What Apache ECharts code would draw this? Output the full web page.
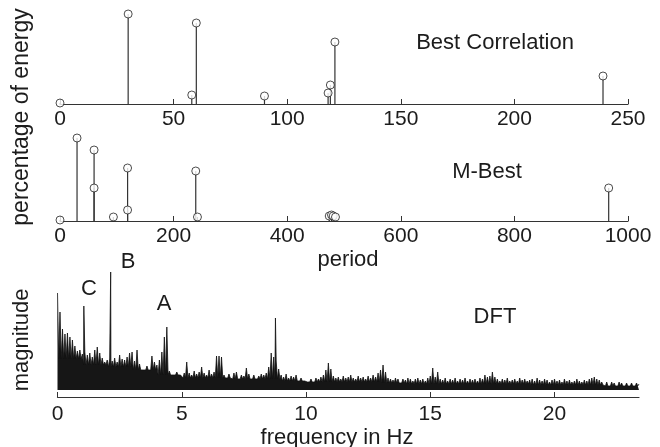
<!DOCTYPE html>
<html>
<head>
<meta charset="utf-8">
<script src="https://cdn.jsdelivr.net/npm/echarts@6/dist/echarts.min.js"></script>
<style>
  html, body { margin: 0; padding: 0; background: #fff; }
  #chart { width: 660px; height: 447px; }
</style>
</head>
<body>
<div id="chart"></div>
<script>
// ---- Data ----
// Panel 1: Best Correlation
var bestPeriods = [0, 30, 58, 60, 90, 118, 119, 121, 239];
var bestEnergy  = [1, 90, 9, 81, 8, 11, 19, 62, 28];

// Panel 2: M-Best
var mbestPeriods = [0, 30, 60, 60, 94, 119, 119, 239, 242, 474, 478, 481, 485, 966];
var mbestEnergy  = [1, 83, 71, 33, 4, 53, 11, 50, 4, 5, 6, 5, 4, 33];

// Panel 3: DFT magnitude, local maxima sampled every 0.1 Hz from 0 to 23.4 Hz
var dftStep = 0.1;
var dftMagnitude = [
  104, 85, 68, 63, 64, 60, 57, 51, 46, 47,
  43, 45, 42, 44, 40, 47, 50, 44, 39, 35,
  37, 38, 36, 39, 35, 42, 38, 37, 40, 44,
  45, 36, 47, 33, 27, 29, 31, 26, 41, 35,
  32, 37, 45, 60, 70, 26, 23, 21, 25, 20,
  22, 24, 35, 24, 22, 26, 23, 25, 30, 24,
  22, 27, 23, 25, 41, 41, 40, 22, 20, 23,
  21, 24, 25, 20, 22, 21, 29, 23, 20, 22,
  19, 21, 23, 22, 24, 30, 44, 40, 36, 28,
  22, 20, 23, 19, 21, 20, 22, 18, 19, 17,
  18, 16, 18, 17, 19, 18, 20, 22, 27, 34,
  28, 21, 19, 20, 18, 21, 19, 20, 22, 19,
  18, 21, 19, 20, 18, 21, 19, 22, 20, 24,
  27, 32, 25, 19, 18, 17, 19, 18, 16, 18,
  17, 19, 18, 16, 18, 19, 17, 18, 16, 19,
  21, 29, 20, 25, 18, 17, 19, 16, 18, 17,
  19, 16, 18, 17, 19, 16, 18, 17, 18, 16,
  19, 18, 22, 20, 21, 25, 20, 18, 16, 18,
  17, 19, 16, 17, 18, 16, 19, 17, 18, 16,
  17, 18, 16, 19, 17, 16, 18, 17, 15, 17,
  18, 16, 17, 15, 18, 16, 17, 15, 16, 18,
  16, 15, 17, 16, 18, 19, 20, 18, 17, 15,
  14, 15, 13, 15, 14, 13, 15, 14, 13, 14,
  12, 14, 13, 14, 13
];
// Top of the solid (dense) noise band, per 1 Hz (0..23 Hz)
var dftBandTop = [38, 32, 30, 27, 22, 19, 19, 18, 18, 16, 15, 15, 15, 14, 13, 13, 13, 13, 13, 12, 12, 12, 11, 11];
// Bottom of the noise band
var dftFloor = 7;
// Narrow spectral lines between the 0.1 Hz samples: [frequency, magnitude]
var dftPeaks = [[1.06, 91], [2.14, 125], [8.77, 79]];

// tick settings
var bestTicks = {min: 0, max: 250, interval: 50};
var mbestTicks = {min: 0, max: 1000, interval: 200};
var dftTicks = {min: 0, max: 23.4, interval: 5};

// ---- Build ----
function zip(a, b) { return a.map(function (v, i) { return [v, b[i]]; }); }
var dftData = [];
dftMagnitude.forEach(function (v, i) {
  var f = Math.round(i * dftStep * 10) / 10;
  dftData.push([f, v]);
  if (i < dftMagnitude.length - 1) {
    dftData.push([Math.round((f + dftStep / 2) * 100) / 100, dftBandTop[Math.floor(f + 1e-9)]]);
  }
});
dftData = dftData.concat(dftPeaks).sort(function (p, q) { return p[0] - q[0]; });

var FONT = "'Liberation Sans', Arial, Helvetica, sans-serif";
var INK = '#1c1c1c';

function xAxisCfg(gi, t, margin) {
  return {
    type: 'value', gridIndex: gi, min: t.min, max: t.max, interval: t.interval,
    axisLine: {show: true, onZero: false, lineStyle: {color: '#333', width: 1.2}},
    axisTick: {show: true, inside: true, length: 5, lineStyle: {color: '#333', width: 1}},
    axisLabel: {show: true, fontFamily: FONT, fontSize: 21, color: INK, margin: margin,
                showMaxLabel: t.max % t.interval === 0,
                formatter: function (v) { return String(v); }},
    splitLine: {show: false}
  };
}
function yAxisCfg(gi, max) {
  return {type: 'value', gridIndex: gi, min: 0, max: max, show: false, splitLine: {show: false}};
}
function stemSeries(xi, data) {
  return {
    type: 'custom', xAxisIndex: xi, yAxisIndex: xi, data: data, silent: true,
    renderItem: function (params, api) {
      var p0 = api.coord([api.value(0), 0]);
      var p1 = api.coord([api.value(0), api.value(1)]);
      return {type: 'line', shape: {x1: p0[0], y1: p0[1], x2: p1[0], y2: p1[1]},
              style: {stroke: '#333', lineWidth: 1.2}};
    },
    encode: {x: 0, y: 1}
  };
}
function dotSeries(xi, data) {
  return {
    type: 'scatter', xAxisIndex: xi, yAxisIndex: xi, data: data, silent: true,
    symbol: 'circle', symbolSize: 8,
    itemStyle: {color: '#fff', borderColor: '#222', borderWidth: 1}
  };
}
function txt(x, y, s, rot, size) {
  return {type: 'text', x: x, y: y, rotation: rot || 0, silent: true,
          style: {text: s, fontFamily: FONT, fontSize: size || 22, fill: INK, align: 'center', verticalAlign: 'middle'}};
}

var option = {
  backgroundColor: '#fff',
  animation: false,
  grid: [
    {left: 60, right: 32, top: 4, height: 100},
    {left: 60, right: 32, top: 121, height: 100},
    {left: 57.5, right: 21, top: 267, height: 130}
  ],
  xAxis: [xAxisCfg(0, bestTicks, 5), xAxisCfg(1, mbestTicks, 5), xAxisCfg(2, dftTicks, 7)],
  yAxis: [yAxisCfg(0, 100), yAxisCfg(1, 100), yAxisCfg(2, 130)],
  series: [
    stemSeries(0, zip(bestPeriods, bestEnergy)),
    dotSeries(0, zip(bestPeriods, bestEnergy)),
    stemSeries(1, zip(mbestPeriods, mbestEnergy)),
    dotSeries(1, zip(mbestPeriods, mbestEnergy)),
    {
      type: 'line', xAxisIndex: 2, yAxisIndex: 2, data: dftData, silent: true,
      symbol: 'none', smooth: false,
      lineStyle: {color: '#111', width: 0.8},
      areaStyle: {color: '#161616', opacity: 1, origin: dftFloor}
    }
  ],
  graphic: [
    txt(495, 43, 'Best Correlation'),
    txt(487, 172, 'M-Best'),
    txt(495, 317, 'DFT'),
    txt(348, 260, 'period'),
    txt(337, 438, 'frequency in Hz'),
    txt(22, 117, 'percentage of energy', Math.PI / 2, 23),
    txt(22, 340, 'magnitude', Math.PI / 2),
    txt(89, 289, 'C'),
    txt(128, 262, 'B'),
    txt(164, 304, 'A')
  ]
};

var chart = echarts.init(document.getElementById('chart'), null, {renderer: 'canvas'});
chart.setOption(option);
</script>
</body>
</html>
